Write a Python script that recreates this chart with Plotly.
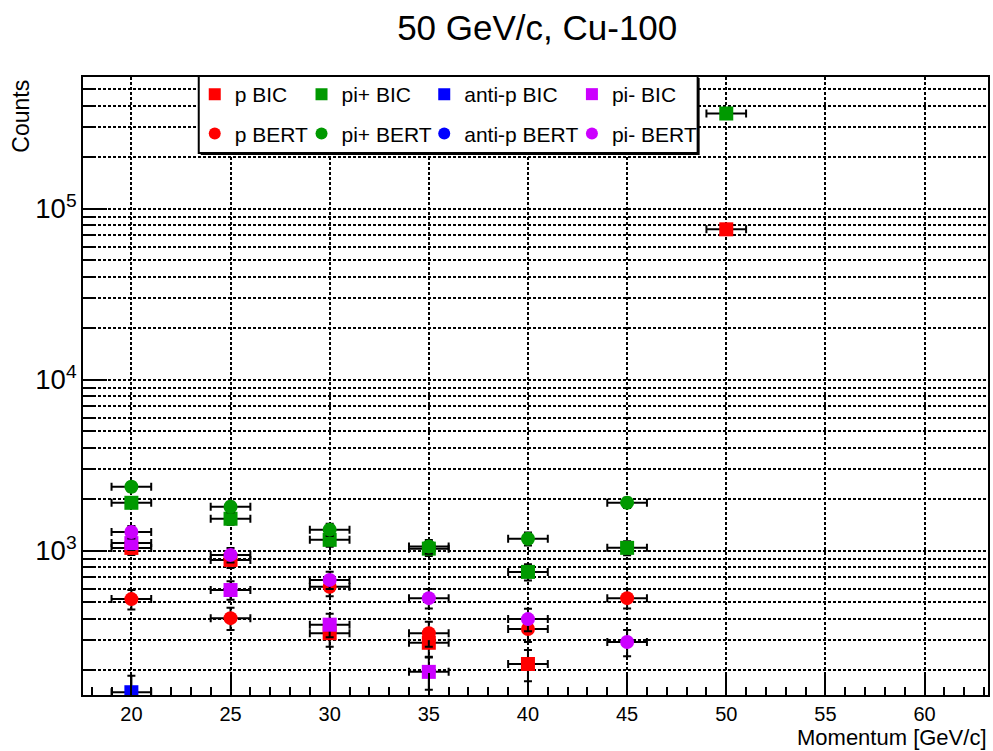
import plotly.graph_objects as go

momentum = [20, 25, 30, 35, 40, 45, 50]
x_err = 1.0

p_bic = [1040, 885, 330, 290, 218, None, 75900]
p_bic_err = [95, 90, 55, 50, 45, None, 830]
pip_bic = [1910, 1541, 1160, 1030, 753, 1041, 361000]
pip_bic_err = [130, 118, 102, 96, 82, 97, 1800]
antip_bic = [149, None, None, None, None, None, None]
antip_bic_err = [37, None, None, None, None, None, None]
pim_bic = [1110, 590, 370, 196, None, None, None]
pim_bic_err = [100, 73, 58, 42, None, None, None]

p_bert = [522, 404, 617, 330, 349, 529, None]
p_bert_err = [68, 60, 75, 55, 56, 69, None]
pip_bert = [2370, 1811, 1330, 1060, 1176, 1913, None]
pip_bert_err = [146, 128, 109, 98, 103, 131, None]
antip_bert = [None, None, None, None, None, None, None]
antip_bert_err = [None, None, None, None, None, None, None]
pim_bert = [1290, 947, 676, 529, 399, 293, None]
pim_bert_err = [108, 92, 78, 69, 60, 51, None]

x_ticks = [20, 25, 30, 35, 40, 45, 50, 55, 60]

RED, GREEN, BLUE, MAG = "#ff0000", "#009900", "#0000ff", "#cc00ff"
FONT = "Liberation Sans, Arial, sans-serif"

series = [
    ("p BIC", p_bic, p_bic_err, RED, "square", "legend"),
    ("pi+ BIC", pip_bic, pip_bic_err, GREEN, "square", "legend2"),
    ("anti-p BIC", antip_bic, antip_bic_err, BLUE, "square", "legend3"),
    ("pi- BIC", pim_bic, pim_bic_err, MAG, "square", "legend4"),
    ("p BERT", p_bert, p_bert_err, RED, "circle", "legend"),
    ("pi+ BERT", pip_bert, pip_bert_err, GREEN, "circle", "legend2"),
    ("anti-p BERT", antip_bert, antip_bert_err, BLUE, "circle", "legend3"),
    ("pi- BERT", pim_bert, pim_bert_err, MAG, "circle", "legend4"),
]

fig = go.Figure()
for name, ys, errs, col, sym, leg in series:
    fig.add_trace(go.Scatter(
        x=momentum, y=ys, name=name, mode="markers",
        marker=dict(symbol=sym, size=14, color=col, line=dict(width=0)),
        error_x=dict(type="constant", value=x_err, color="black", thickness=2, width=4),
        error_y=dict(type="data", array=errs, color="black", thickness=2, width=4),
        legend=leg, legendgroup=name, showlegend=True,
    ))

W, H = 993, 751
ml, mr, mt, mb = 83, 3, 77, 56
pw, ph = W - ml - mr, H - mt - mb

def px_x(p):
    return (p - ml) / pw

def px_y(p):
    return (H - mb - p) / ph

legend_cols = [195, 302, 425, 573]
legend_common = dict(
    orientation="v", xanchor="left", yanchor="top",
    bgcolor="rgba(0,0,0,0)", borderwidth=0,
    font=dict(family=FONT, size=21, color="black"),
    tracegroupgap=9, itemsizing="constant",
)
layout_legends = {}
for i, key in enumerate(["legend", "legend2", "legend3", "legend4"]):
    layout_legends[key] = dict(x=px_x(legend_cols[i]), y=px_y(74), **legend_common)

grid = dict(gridcolor="black", gridwidth=2, griddash="3px,2px")

fig.update_layout(
    width=W, height=H,
    margin=dict(l=ml, r=mr, t=mt, b=mb),
    paper_bgcolor="white", plot_bgcolor="white",
    font=dict(family=FONT, color="black"),
    title=dict(text="50 GeV/c, Cu-100", x=0.541, xanchor="center", y=1 - 28 / H,
               yanchor="middle", yref="container",
               font=dict(family=FONT, size=35, color="black")),
    xaxis=dict(
        range=[17.56, 63.2], tickmode="array", tickvals=x_ticks,
        ticks="inside", ticklen=22, tickwidth=2, tickcolor="black",
        showline=True, linewidth=2, linecolor="black", mirror=True,
        showgrid=True, zeroline=False, **grid,
        tickfont=dict(family=FONT, size=20, color="black"),
        minor=dict(dtick=1, ticks="inside", ticklen=8, tickwidth=2, tickcolor="black",
                   showgrid=False),
    ),
    yaxis=dict(
        type="log", range=[2.157, 5.771], dtick=1, exponentformat="power",
        ticks="inside", ticklen=24, tickwidth=2, tickcolor="black",
        showline=True, linewidth=2, linecolor="black", mirror=True,
        showgrid=True, zeroline=False, **grid,
        tickfont=dict(family=FONT, size=22, color="black"),
        minor=dict(dtick="D1", ticks="inside", ticklen=12, tickwidth=2, tickcolor="black",
                   showgrid=True, gridcolor="black", gridwidth=2, griddash="3px,2px"),
    ),
    shapes=[
        dict(type="rect", xref="paper", yref="paper",
             x0=px_x(201), x1=px_x(701), y0=px_y(155), y1=px_y(78),
             fillcolor="black", line=dict(color="black", width=0), layer="above"),
        dict(type="rect", xref="paper", yref="paper",
             x0=px_x(199), x1=px_x(699), y0=px_y(153), y1=px_y(76),
             fillcolor="white", line=dict(color="black", width=2), layer="above"),
    ],
    annotations=[
        dict(text="Counts", textangle=-90, xref="paper", yref="paper",
             x=px_x(20), y=px_y(78), xanchor="center", yanchor="top",
             showarrow=False, font=dict(family=FONT, size=23, color="black")),
        dict(text="Momentum [GeV/c]", xref="paper", yref="paper",
             x=1.0, y=px_y(751), xanchor="right", yanchor="bottom", borderpad=0,
             showarrow=False, font=dict(family=FONT, size=22, color="black")),
    ],
    **layout_legends,
)

fig.write_html("out.html")
